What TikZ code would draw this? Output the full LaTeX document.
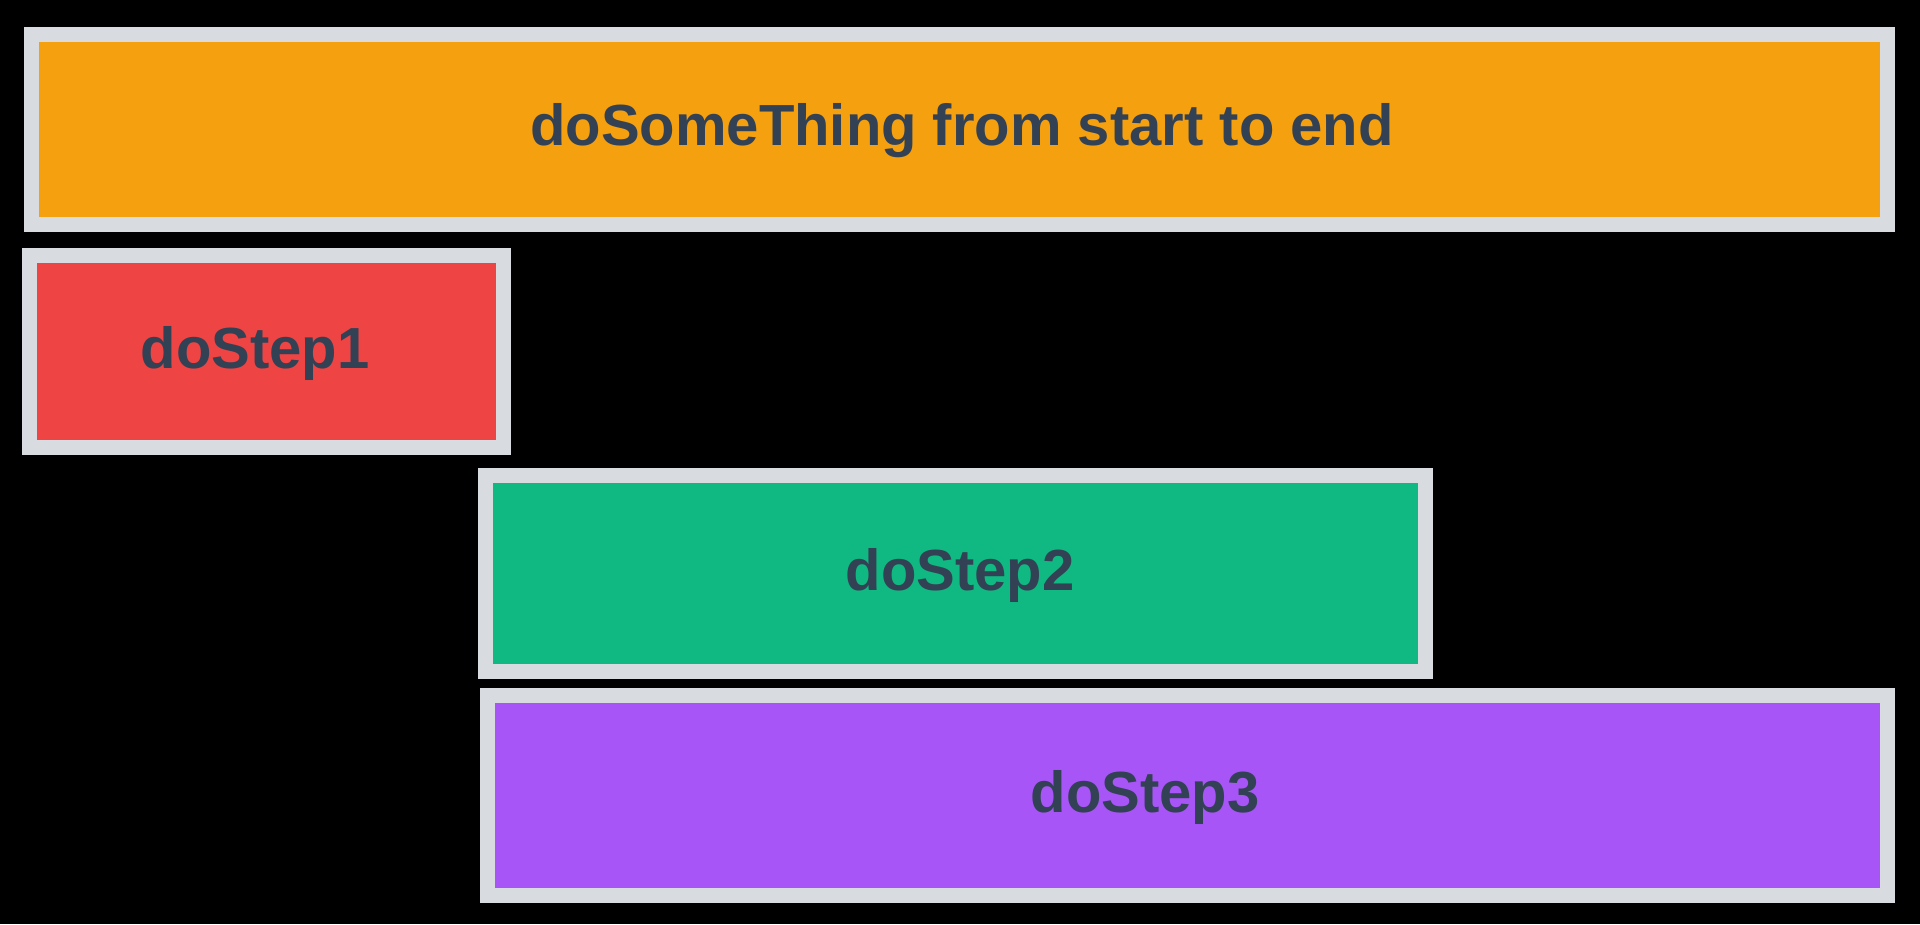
\documentclass[tikz,border=0pt]{standalone}
\usepackage{fontspec}
\setmainfont{Liberation Sans}
\definecolor{amberfill}{RGB}{244,160,15}
\definecolor{redfill}{RGB}{239,68,68}
\definecolor{greenfill}{RGB}{16,185,129}
\definecolor{purplefill}{RGB}{168,85,247}
\definecolor{rim}{RGB}{216,220,224}
\definecolor{ink}{RGB}{51,65,85}
\tikzset{
  bar/.style={draw=rim, line width=15pt, rectangle, inner sep=0pt, outer sep=0pt},
  caption/.style={anchor=base, inner sep=0pt, text=ink,
    font=\fontsize{58}{60}\selectfont\bfseries}
}
\begin{document}
\begin{tikzpicture}[x=1pt,y=-1pt]
  \fill[black] (0,0) rectangle (1920,924);
  \useasboundingbox (0,0) rectangle (1920,924);

  % bars: outer edge of the rim, rim drawn centred on the path
  \node[bar, fill=amberfill, minimum width=1856pt, minimum height=190pt]
    (whole) at (959.5,129.5) {};
  \node[bar, fill=redfill, minimum width=474pt, minimum height=192pt]
    (step1) at (266.5,351.5) {};
  \node[bar, fill=greenfill, minimum width=940pt, minimum height=196pt]
    (step2) at (955.5,573.5) {};
  \node[bar, fill=purplefill, minimum width=1400pt, minimum height=200pt]
    (step3) at (1187.5,795.5) {};

  % labels
  \node[caption] (wholetext) at (962,145) {doSomeThing from start to end};
  \node[caption] (step1text) at (255,368) {doStep1};
  \node[caption] (step2text) at (960,590) {doStep2};
  \node[caption] (step3text) at (1145,812) {doStep3};
\end{tikzpicture}
\end{document}
